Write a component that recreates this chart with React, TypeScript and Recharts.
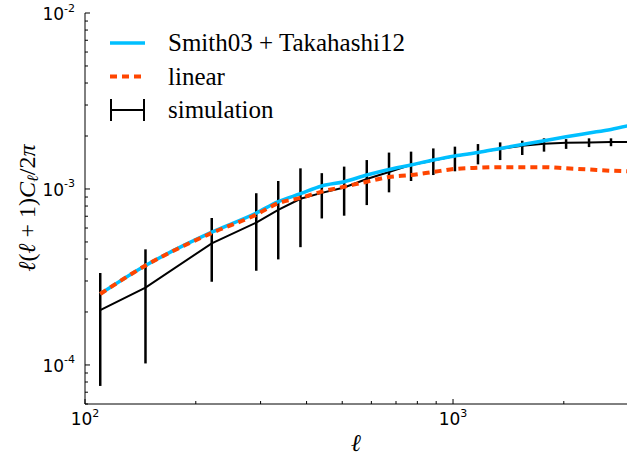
import { ComposedChart, Line, XAxis, YAxis, ErrorBar, Customized } from 'recharts';

// multipole bins
const ell = [110, 146, 221, 292, 335, 385, 440, 506, 583, 670, 769, 884, 1012, 1169, 1343, 1542, 1767, 2029, 2342, 2687, 3000];

const smithTakahashi = [2.53e-4, 3.67e-4, 5.68e-4, 7.3e-4, 8.47e-4, 9.4e-4, 1.04e-3, 1.1e-3, 1.2e-3, 1.29e-3, 1.37e-3, 1.46e-3, 1.54e-3, 1.61e-3, 1.7e-3, 1.79e-3, 1.88e-3, 1.98e-3, 2.08e-3, 2.18e-3, 2.29e-3];
const linear = [2.53e-4, 3.67e-4, 5.62e-4, 7.15e-4, 8.3e-4, 8.9e-4, 9.66e-4, 1.03e-3, 1.1e-3, 1.17e-3, 1.2e-3, 1.25e-3, 1.3e-3, 1.32e-3, 1.33e-3, 1.33e-3, 1.33e-3, 1.31e-3, 1.29e-3, 1.27e-3, 1.26e-3];

const simulation = [2.05e-4, 2.75e-4, 4.91e-4, 6.44e-4, 7.6e-4, 8.8e-4, 9.5e-4, 1.02e-3, 1.14e-3, 1.25e-3, 1.37e-3, 1.45e-3, 1.54e-3, 1.61e-3, 1.69e-3, 1.76e-3, 1.81e-3, 1.83e-3, 1.84e-3, 1.85e-3, 1.85e-3];
const simLow = [7.6e-5, 1.02e-4, 2.97e-4, 3.43e-4, 3.98e-4, 4.67e-4, 6.8e-4, 7.05e-4, 8.1e-4, 9.57e-4, 1.11e-3, 1.2e-3, 1.26e-3, 1.38e-3, 1.46e-3, 1.56e-3, 1.63e-3, 1.69e-3, 1.73e-3, 1.75e-3, null];
const simHigh = [3.33e-4, 4.54e-4, 6.84e-4, 9.46e-4, 1.11e-3, 1.31e-3, 1.23e-3, 1.34e-3, 1.46e-3, 1.61e-3, 1.63e-3, 1.7e-3, 1.74e-3, 1.8e-3, 1.84e-3, 1.88e-3, 1.94e-3, 1.92e-3, 1.94e-3, 1.94e-3, null];

const xTicks = [100, 200, 300, 400, 500, 600, 700, 800, 900, 1000, 2000];
const yTicks = [
  6e-5, 7e-5, 8e-5, 9e-5,
  1e-4, 2e-4, 3e-4, 4e-4, 5e-4, 6e-4, 7e-4, 8e-4, 9e-4,
  1e-3, 2e-3, 3e-3, 4e-3, 5e-3, 6e-3, 7e-3, 8e-3, 9e-3,
  1e-2,
];

const legendItems = [
  { name: 'Smith03 + Takahashi12', kind: 'blue' },
  { name: 'linear', kind: 'dash' },
  { name: 'simulation', kind: 'err' },
];

const data = ell.map((l, i) => ({
  ell: l,
  st: smithTakahashi[i],
  lin: linear[i],
  sim: simulation[i],
  err: simLow[i] == null ? [0, 0] : [simulation[i] - (simLow[i] as number), (simHigh[i] as number) - simulation[i]],
}));

const BLUE = '#00bfff';
const ORANGE = '#ff4500';
const SERIF = '"Liberation Serif", "Times New Roman", serif';

const exponent = (v: number) => {
  const e = Math.log10(v);
  const r = Math.round(e);
  return Math.abs(e - r) < 1e-6 ? r : null;
};

const Pow = ({ x, y, e, anchor }: any) => (
  <text x={x} y={y} textAnchor={anchor} fontFamily="DejaVu Sans" fontSize={17} fill="#000">
    10<tspan dy={-8.5} fontSize={11}>{e < 0 ? '-' + Math.abs(e) : e}</tspan>
  </text>
);

const BottomTick = ({ x, y, payload }: any) => {
  const e = exponent(payload.value);
  return (
    <g>
      <line x1={x} x2={x} y1={y} y2={y - (e !== null ? 5 : 3)} stroke="#000" />
      {e !== null && <Pow x={x} y={y + 21} e={e} anchor="middle" />}
    </g>
  );
};

const TopTick = ({ x, y, payload }: any) => {
  const e = exponent(payload.value);
  return <line x1={x} x2={x} y1={y} y2={y + (e !== null ? 5 : 3)} stroke="#000" />;
};

const LeftTick = ({ x, y, payload }: any) => {
  const e = exponent(payload.value);
  return (
    <g>
      <line x1={x} x2={x + (e !== null ? 5 : 3)} y1={y} y2={y} stroke="#000" />
      {e !== null && <Pow x={x - 10} y={y + 7} e={e} anchor="end" />}
    </g>
  );
};

const RightTick = ({ x, y, payload }: any) => {
  const e = exponent(payload.value);
  return <line x1={x} x2={x - (e !== null ? 5 : 3)} y1={y} y2={y} stroke="#000" />;
};

const YLabel = () => (
  <text
    x={27}
    y={208}
    transform="rotate(-90 27 208)"
    textAnchor="middle"
    dominantBaseline="central"
    fontFamily={SERIF}
    fontSize={24}
    fill="#000"
  >
    <tspan fontStyle="italic">ℓ</tspan>(<tspan fontStyle="italic">ℓ</tspan> + 1)<tspan fontStyle="italic">C</tspan>
    <tspan fontStyle="italic" fontSize={16} dy={5}>ℓ</tspan>
    <tspan dy={-5}>/2</tspan>
    <tspan fontStyle="italic">π</tspan>
  </text>
);

const XLabel = () => (
  <text x={356} y={443} textAnchor="middle" dominantBaseline="central" fontFamily={SERIF} fontStyle="italic" fontSize={24} fill="#000">
    ℓ
  </text>
);

const LegendBox = () => (
  <g className="plot-legend">
    {legendItems.map((item, i) => {
      const cy = 43 + i * 33.5;
      return (
        <g key={item.name}>
          {item.kind === 'blue' && <line x1={110} x2={145} y1={cy} y2={cy} stroke={BLUE} strokeWidth={3.5} />}
          {item.kind === 'dash' && (
            <line x1={110} x2={145} y1={cy} y2={cy} stroke={ORANGE} strokeWidth={4} strokeDasharray="7 5" />
          )}
          {item.kind === 'err' && (
            <g stroke="#000" strokeWidth={2}>
              <line x1={110} x2={145} y1={cy} y2={cy} />
              <line x1={111} x2={111} y1={cy - 11} y2={cy + 11} />
              <line x1={144} x2={144} y1={cy - 11} y2={cy + 11} />
            </g>
          )}
          <text x={168} y={cy + 8} fontFamily={SERIF} fontSize={25} fill="#000">
            {item.name}
          </text>
        </g>
      );
    })}
  </g>
);

export default function App() {
  return (
    <div style={{ position: 'absolute', left: 0, top: 0, background: '#fff' }}>
      <ComposedChart width={628} height={457} data={data} margin={{ top: 13, right: 1, bottom: 0, left: 0 }}>
        <XAxis
          xAxisId="b"
          dataKey="ell"
          type="number"
          scale="log"
          domain={[100, 2970]}
          allowDataOverflow
          ticks={xTicks}
          interval={0}
          height={53}
          tickSize={0}
          tickMargin={0}
          tickLine={false}
          tick={<BottomTick />}
          axisLine={{ stroke: '#000' }}
          label={{ content: () => <XLabel /> }}
        />
        <XAxis
          xAxisId="t"
          orientation="top"
          dataKey="ell"
          type="number"
          scale="log"
          domain={[100, 2970]}
          allowDataOverflow
          ticks={xTicks}
          interval={0}
          height={0}
          tickSize={0}
          tickMargin={0}
          tickLine={false}
          tick={<TopTick />}
          axisLine={{ stroke: '#000' }}
        />
        <YAxis
          yAxisId="l"
          type="number"
          scale="log"
          domain={[6e-5, 1e-2]}
          allowDataOverflow
          ticks={yTicks}
          interval={0}
          width={85}
          tickSize={0}
          tickMargin={0}
          tickLine={false}
          tick={<LeftTick />}
          axisLine={{ stroke: '#000' }}
          label={{ content: () => <YLabel /> }}
        />
        <YAxis
          yAxisId="r"
          orientation="right"
          type="number"
          scale="log"
          domain={[6e-5, 1e-2]}
          allowDataOverflow
          ticks={yTicks}
          interval={0}
          width={0}
          tickSize={0}
          tickMargin={0}
          tickLine={false}
          tick={<RightTick />}
          axisLine={{ stroke: '#000' }}
        />
        <Line
          xAxisId="b"
          yAxisId="l"
          dataKey="sim"
          name="simulation"
          stroke="#000"
          strokeWidth={2}
          dot={false}
          isAnimationActive={false}
        >
          <ErrorBar dataKey="err" direction="y" width={0} stroke="#000" strokeWidth={2.5} isAnimationActive={false} />
        </Line>
        <Line
          xAxisId="b"
          yAxisId="l"
          type="monotone"
          dataKey="st"
          name="Smith03 + Takahashi12"
          stroke={BLUE}
          strokeWidth={3.5}
          dot={false}
          isAnimationActive={false}
        />
        <Line
          xAxisId="b"
          yAxisId="l"
          type="monotone"
          dataKey="lin"
          name="linear"
          stroke={ORANGE}
          strokeWidth={4}
          strokeDasharray="7 5"
          dot={false}
          isAnimationActive={false}
        />
        <Customized component={<LegendBox />} />
      </ComposedChart>
    </div>
  );
}
